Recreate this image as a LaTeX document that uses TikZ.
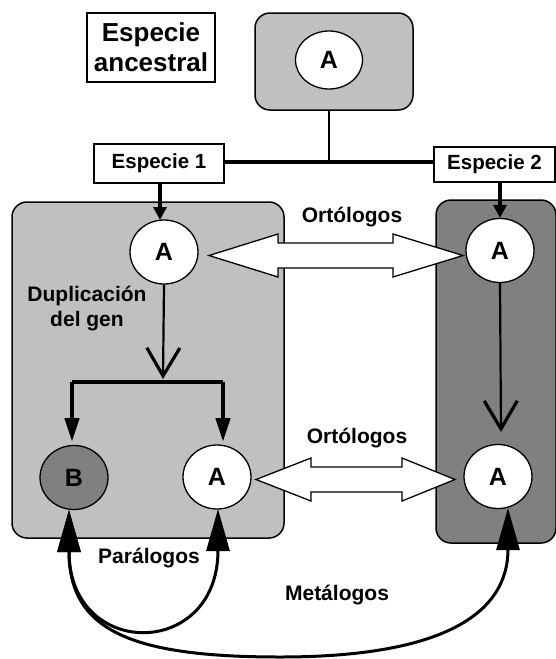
\documentclass[tikz,border=0pt]{standalone}
\usepackage{fontspec}
\setmainfont{Liberation Sans}
\usetikzlibrary{arrows.meta,shapes.geometric,calc}
\definecolor{lgray}{HTML}{C0C0C0}
\definecolor{dgray}{HTML}{808080}
\begin{document}
\begin{tikzpicture}[x=1pt,y=-1pt,
  gene/.style={ellipse, draw, line width=1.3pt, fill=white, minimum width=68pt, minimum height=64pt, inner sep=0pt, font=\fontsize{25}{25}\selectfont\bfseries},
  lbl/.style={font=\fontsize{21}{25}\selectfont\bfseries, align=center, inner sep=0pt},
  spbox/.style={draw, line width=1.2pt, fill=white, inner sep=0pt, font=\fontsize{20.5}{24}\selectfont\bfseries, align=center},
  grpbox/.style={draw, line width=1.5pt, rounded corners=15pt},
  thickarr/.style={line width=4.5pt, -{Triangle[length=13pt,width=13pt]}},
  brackarr/.style={line width=4.5pt, -{Triangle[length=24pt,width=14pt]}},
  duparr/.style={line width=2.2pt, -{Straight Barb[length=28pt,width=33pt,line width=3.2pt]}},
  curvearr/.style={line width=3pt, {Triangle[length=42pt,width=23pt]}-{Triangle[length=42pt,width=23pt]}},
  blockarr/.style={draw, line width=1.3pt, fill=white, line join=miter}
]
\useasboundingbox (0,0) rectangle (555,659);

% group boxes
\node[grpbox, fill=lgray, minimum width=158pt, minimum height=97pt] (anc) at (334,61.5) {};
\draw[grpbox, fill=lgray] (12,202) rectangle (284,538);
\draw[grpbox, fill=dgray] (436,200) rectangle (556,543);

% species boxes
\node[spbox, minimum width=128pt, minimum height=69pt, font=\fontsize{26}{30}\selectfont\bfseries] (anclbl) at (151,47.5) {Especie\\ancestral};
\node[spbox, minimum width=130pt, minimum height=39pt] (E1) at (159,163.5) {Especie 1};
\node[spbox, minimum width=121pt, minimum height=35pt] (E2) at (494.5,164.5) {Especie 2};

% genes
\node[gene, minimum width=67pt, minimum height=58pt] (Atop) at (329,60) {A};
\node[gene] (A1) at (164,252) {A};
\node[gene] (A2) at (500,250.5) {A};
\node[gene, fill=dgray] (B) at (74,477.5) {B};
\node[gene] (A1b) at (217,477) {A};
\node[gene] (A2b) at (498,476.5) {A};

% tree lines
\coordinate (j) at (329,162);
\draw[line width=2pt] (anc.south -| j) -- (j);
\draw[line width=4.5pt] (E1.east |- j) -- (E2.west |- j);

% species arrows
\draw[thickarr] (E1.south -| 160,0) -- (160,220);
\draw[thickarr] (A2.north |- E2.south) -- (A2.north);

% duplication
\coordinate (split) at (163,382);
\coordinate (bL) at (72,442);
\coordinate (bR) at (223,442);
\draw[duparr] (A1.south) -- (163,379);
\draw[line width=4.5pt] (bL |- split) -- (bR |- split);
\draw[brackarr] (bL |- split) -- (bL);
\draw[brackarr] (bR |- split) -- (bR);

\draw[duparr] (A2.south) -- (501,432);

% block double arrows
\draw[blockarr] (209,255.5) -- (278,234) -- (278,243) -- (393,243) -- (393,234) -- (463,255.5)
  -- (393,277) -- (393,268) -- (278,268) -- (278,277) -- cycle;
\draw[blockarr] (256,479.5) -- (311,458) -- (311,467) -- (402,467) -- (402,458) -- (455,479.5)
  -- (402,501) -- (402,492) -- (311,492) -- (311,501) -- cycle;

% labels
\node[lbl] (ort1) at (352,217) {Ortólogos};
\node[lbl] (ort2) at (357,438) {Ortólogos};
\node[lbl] (dup) at (87,309) {Duplicación\\del gen};
\node[lbl] (par) at (149,558) {Parálogos};
\node[lbl] (met) at (337,595) {Metálogos};

% paralog / metalog curves
\coordinate (bt) at (69,510);
\draw[curvearr] (bt) .. controls (69,660) and (218,660) .. (218,509);
\draw[curvearr] (bt) .. controls (69,630) and (130,657) .. (280,657) .. controls (450,657) and (508,610) .. (508,508);

\end{tikzpicture}
\end{document}
